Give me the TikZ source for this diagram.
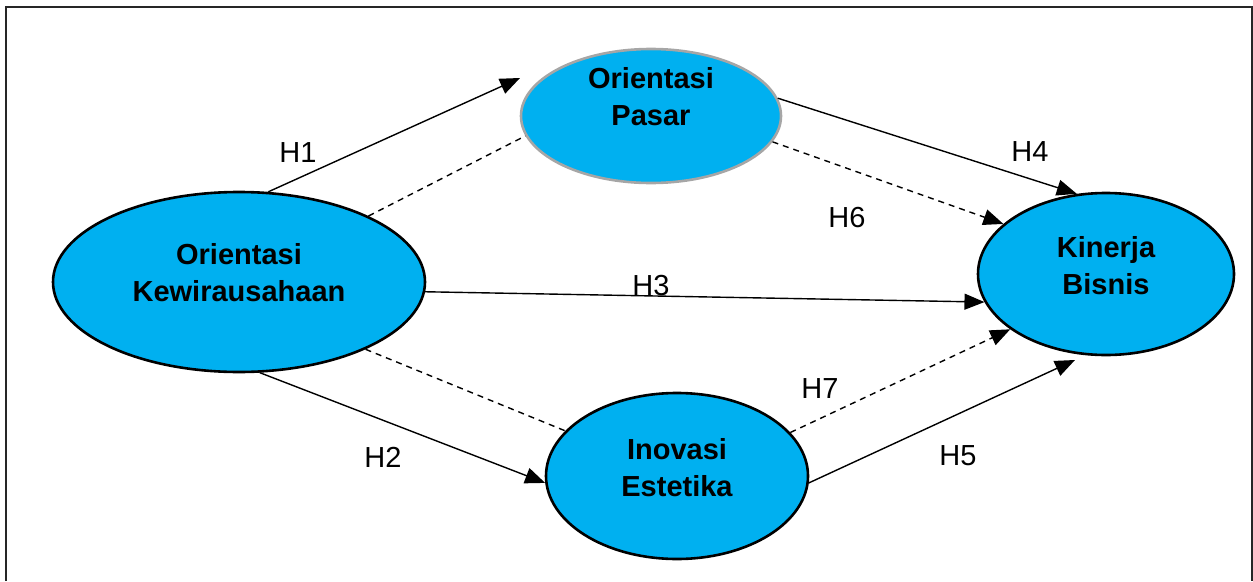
\documentclass[tikz,border=0pt]{standalone}
\usepackage{fontspec}
\setmainfont{Liberation Sans}
\usetikzlibrary{shapes.geometric,arrows.meta,calc}
\definecolor{cyanfill}{HTML}{00B0F0}
\definecolor{graybd}{HTML}{A6A6A6}
\begin{document}
\begin{tikzpicture}[x=1pt,y=-1pt,
  var/.style={ellipse, fill=cyanfill, draw=black, line width=2.6pt, inner sep=0pt},
  vtext/.style={font=\fontsize{29}{37}\selectfont\bfseries, align=center},
  hlab/.style={font=\fontsize{29}{35}\selectfont},
  conn/.style={line width=1.4pt, -{Triangle[length=20pt,width=16pt]}},
  dline/.style={line width=1.4pt, dash pattern=on 6pt off 5pt},
]
\useasboundingbox (0,0) rectangle (1253,581);
\draw[line width=2pt, draw=black!85] (6,581) -- (6,7) -- (1251.5,7) -- (1251.5,581);

\node[var, minimum width=372pt, minimum height=180pt] (ok) at (239,282) {};
\node[var, draw=graybd, minimum width=260pt, minimum height=134pt] (op) at (651,116) {};
\node[var, minimum width=256pt, minimum height=162pt] (kb) at (1106,274) {};
\node[var, minimum width=262pt, minimum height=166pt] (ie) at (677,476) {};

\node[vtext] (okt) at (239,273) {Orientasi\\Kewirausahaan};
\node[vtext] (opt) at (651,97) {Orientasi\\Pasar};
\node[vtext] (kbt) at (1106,266) {Kinerja\\Bisnis};
\node[vtext] (iet) at (677,468) {Inovasi\\Estetika};

\coordinate (h1e) at ($(op.center)+(-131,-38)$);
\coordinate (h5e) at ($(kb.center)+(-31,86)$);

\draw[conn] (ok.72) -- (h1e);
\draw[dline] (ok.27) -- (op.189);
\draw[conn] (op.8) -- (kb.110);
\draw[conn,dline] (op.348) -- (kb.154);
\draw[conn] (ok.357) -- (kb.193);
\draw[dline] (ok.332) -- (ie.158);
\draw[conn] (ok.283) -- (ie.183);
\draw[conn,dline] (ie.21) -- (kb.210);
\draw[conn] (ie.357) -- (h5e);

\node[hlab] (l1) at (298,153) {H1};
\node[hlab] (l2) at (383,457) {H2};
\node[hlab] (l3) at (651,286) {H3};
\node[hlab] (l4) at (1030,152) {H4};
\node[hlab] (l5) at (958,456) {H5};
\node[hlab] (l6) at (847,218) {H6};
\node[hlab] (l7) at (820,389) {H7};
\end{tikzpicture}
\end{document}
